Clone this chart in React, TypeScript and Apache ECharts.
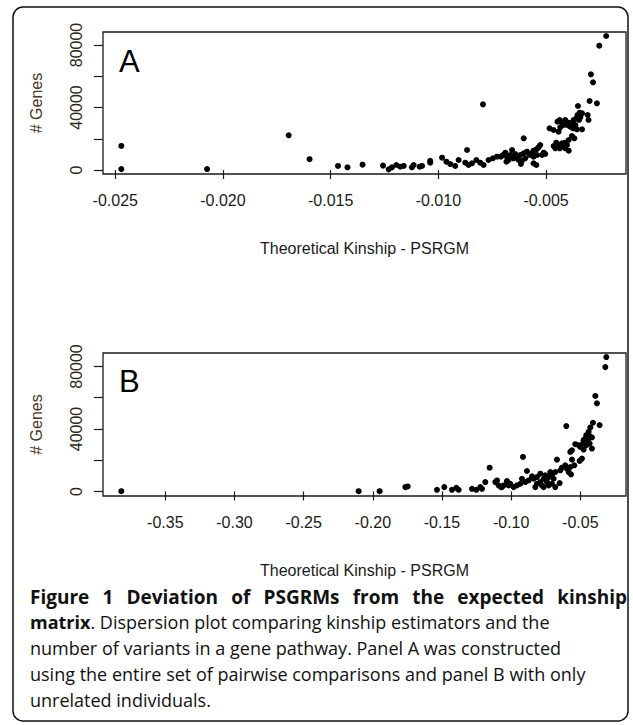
import React, { useEffect, useRef } from 'react';
import * as echarts from 'echarts';

// ---------- data ----------
const xTicksA = [-0.025, -0.02, -0.015, -0.01, -0.005];
const xTicksB = [-0.35, -0.3, -0.25, -0.2, -0.15, -0.1, -0.05];
const yTicks = [0, 20000, 40000, 60000, 80000];
const yTickLabels = [0, 40000, 80000];

const kinshipA = [
  -0.02472, -0.02472, -0.02074, -0.01695, -0.01598, -0.01466, -0.01422, -0.01352,
  -0.01257, -0.01231, -0.01216, -0.01195, -0.01177, -0.01161, -0.01123, -0.01115,
  -0.01087, -0.01076, -0.01038, -0.01038, -0.00983, -0.00963, -0.00945, -0.00922,
  -0.00906, -0.00867, -0.00875, -0.0086, -0.00844, -0.00824, -0.00806, -0.0079,
  -0.00767, -0.00747, -0.00728, -0.00793,
  -0.00221, -0.00253, -0.00292, -0.00282, -0.00298, -0.00264, -0.00352, -0.00344,
  -0.00354, -0.00333, -0.00341, -0.0036, -0.00347, -0.00307, -0.00303, -0.00372,
  -0.0038, -0.00364, -0.00388, -0.00395, -0.00411, -0.00403, -0.00375, -0.00357,
  -0.00333, -0.00437, -0.00447, -0.00426, -0.00419, -0.00434, -0.00484, -0.00465,
  -0.00442, -0.0038, -0.00369, -0.00395, -0.00411, -0.00426, -0.00403, -0.00419,
  -0.00442, -0.00453, -0.00465, -0.00457, -0.00437, -0.00411, -0.00395, -0.00604,
  -0.00527, -0.00535, -0.00545, -0.00558, -0.00566, -0.00576, -0.00558, -0.00542,
  -0.00519, -0.00511, -0.00504, -0.00589, -0.00604, -0.0062, -0.00635, -0.00643,
  -0.00658, -0.00666, -0.00682, -0.00689, -0.007, -0.0071, -0.00612, -0.00597,
  -0.00628, -0.00651, -0.00674, -0.00684, -0.00558, -0.00545, -0.00617,
];
const genesA = [
  15400, 600, 600, 22200, 6900, 2600, 1700, 3400,
  2800, 400, 1700, 3200, 2100, 2600, 1700, 3200,
  2100, 2600, 4700, 5900, 7900, 5300, 3800, 2600,
  6400, 12800, 4700, 3200, 4300, 6400, 4700, 3200,
  6400, 7500, 8500, 42000,
  85760, 79570, 61230, 56100, 44160, 42670, 40960, 36690,
  35200, 36270, 33700, 33070, 32000, 35200, 32000, 32000,
  29870, 28800, 27730, 30290, 32000, 28800, 26670, 26030,
  26030, 32000, 30930, 30290, 28800, 27310, 26670, 25600,
  24530, 21760, 20270, 19200, 17490, 17070, 16000, 14930,
  16000, 17490, 15360, 13870, 13870, 13870, 12370, 20270,
  16000, 14510, 13230, 12370, 10670, 9600, 8530, 9600,
  9600, 11090, 10240, 11730, 10670, 9600, 8530, 10240,
  12800, 9600, 8530, 11090, 9600, 8530, 5970, 7470,
  6400, 7470, 6400, 5330, 4270, 3200, 3840,
];

const kinshipB = [
  -0.3818, -0.21025, -0.19507, -0.17651, -0.17483, -0.15362, -0.14832, -0.14278,
  -0.13965, -0.13797, -0.12832, -0.12519, -0.1223, -0.12109, -0.11868, -0.11555,
  -0.11145, -0.11025, -0.10905, -0.10664, -0.10302, -0.10182,
  -0.03122, -0.03194, -0.03917, -0.03797, -0.06013, -0.04086, -0.03604, -0.04278,
  -0.04398, -0.04568, -0.04327, -0.0464, -0.04471, -0.04158, -0.04761, -0.04327,
  -0.04568, -0.04808, -0.05001, -0.04158, -0.04761, -0.05122, -0.05363, -0.05604,
  -0.05724, -0.04881, -0.05049, -0.05604, -0.05435, -0.05724, -0.05965, -0.05844,
  -0.05676, -0.06086, -0.06327, -0.06688, -0.06447, -0.06808, -0.0717, -0.0705,
  -0.06929, -0.0729, -0.07531, -0.07651, -0.07411, -0.0705, -0.06808, -0.06495,
  -0.07893, -0.08134, -0.08375, -0.08495, -0.07893, -0.07773, -0.08134, -0.08254,
  -0.0729, -0.07651, -0.08857, -0.09145, -0.08736, -0.08977, -0.09218, -0.09338,
  -0.09579, -0.0982, -0.10061, -0.10302, -0.10543, -0.10735,
];
const genesB = [
  200, 200, 200, 2790, 3220, 1070, 2790, 1070,
  2360, 1070, 1720, 1070, 2790, 1720, 6010, 15230,
  6010, 7080, 3860, 2790, 6010, 3860,
  86030, 79590, 61140, 56420, 41830, 43980, 42480, 40980,
  38190, 36040, 35400, 33900, 32820, 34540, 32820, 30680,
  29610, 30680, 28530, 27460, 26820, 29610, 30250, 26390,
  25310, 21030, 19520, 20380, 16730, 15660, 14590, 12440,
  10940, 16730, 15230, 20380, 13520, 12440, 12440, 10300,
  8150, 9220, 10300, 8150, 6010, 4930, 2790, 5360,
  11370, 9220, 8150, 9650, 6010, 3860, 4930, 2790,
  3860, 2790, 13090, 22100, 7080, 6010, 8150, 4930,
  3860, 2790, 4930, 6650, 3860, 2790,
];

const captionTitle = 'Figure 1 Deviation of PSGRMs from the expected kinship';
const captionLines = [
  'number of variants in a gene pathway. Panel A was constructed',
  'using the entire set of pairwise comparisons and panel B with only',
  'unrelated individuals.',
];

// ---------- helpers ----------
const RFONT = '"Liberation Sans", Arial, sans-serif';
const CFONT = '"Open Sans", "Noto Sans", sans-serif';
const INK = '#1a1a1a';
const AX_FONT = 16;

function measure(text: string, font: string): number {
  const ctx = document.createElement('canvas').getContext('2d');
  if (!ctx) return text.length * 8;
  ctx.font = font;
  return ctx.measureText(text).width;
}

function xAxisFor(grid: number, min: number, max: number, ticks: number[], digits: number) {
  return {
    gridIndex: grid,
    type: 'value',
    min,
    max,
    splitLine: { show: false },
    axisLine: { show: false },
    axisTick: { show: true, length: 9, customValues: ticks, lineStyle: { color: INK, width: 1.2 } },
    axisLabel: {
      customValues: ticks,
      formatter: (v: number) => v.toFixed(digits),
      margin: 18,
      fontSize: AX_FONT,
      fontFamily: RFONT,
      color: INK,
    },
    name: 'Theoretical Kinship - PSRGM',
    nameLocation: 'middle',
    nameGap: 66,
    nameTextStyle: { fontSize: AX_FONT, fontFamily: RFONT, color: INK },
  };
}

function yAxisFor(grid: number, min: number, max: number) {
  return {
    gridIndex: grid,
    type: 'value',
    min,
    max,
    splitLine: { show: false },
    axisLine: { show: false },
    axisTick: { show: true, length: 9, customValues: yTicks, lineStyle: { color: INK, width: 1.2 } },
    axisLabel: {
      customValues: yTickLabels,
      formatter: (v: number) => String(v),
      rotate: 90,
      margin: 19,
      fontSize: AX_FONT,
      fontFamily: RFONT,
      color: '#2e2823',
    },
    name: '# Genes',
    nameLocation: 'middle',
    nameRotate: 90,
    nameGap: 59,
    nameTextStyle: { fontSize: AX_FONT, fontFamily: RFONT, color: '#4a3626' },
  };
}

export default function App() {
  const ref = useRef<HTMLDivElement>(null);

  useEffect(() => {
    if (!ref.current) return;
    const chart = echarts.init(ref.current, undefined, { renderer: 'svg' });

    const capSize = 18;
    const titleSize = 19;
    const left = 30;
    const right = 627;
    const boldFont = `bold ${titleSize}px "Open Sans"`;
    const words = captionTitle.split(' ');
    const widths = words.map((w) => measure(w, boldFont));
    const total = widths.reduce((a, b) => a + b, 0);
    const gap = (right - left - total) / (words.length - 1);
    let cx = left;
    const titleWords = words.map((w, i) => {
      const el = {
        type: 'text',
        x: cx,
        y: 597,
        style: {
          text: w,
          fontSize: titleSize,
          fontWeight: 'bold',
          fontFamily: CFONT,
          fill: '#111',
          verticalAlign: 'middle',
        },
      };
      cx += widths[i] + gap;
      return el;
    });

    const lineY = [648, 674, 700];

    const option: any = {
      animation: false,
      grid: [
        { left: 103, top: 32, width: 523, height: 142, show: true, borderColor: INK, borderWidth: 1.3 },
        { left: 103, top: 353, width: 523, height: 143, show: true, borderColor: INK, borderWidth: 1.3 },
      ],
      xAxis: [
        xAxisFor(0, -0.02557, -0.00129, xTicksA, 3),
        xAxisFor(1, -0.39503, -0.01698, xTicksB, 2),
      ],
      yAxis: [yAxisFor(0, -2560, 88320), yAxisFor(1, -2900, 88620)],
      series: [
        {
          type: 'scatter',
          xAxisIndex: 0,
          yAxisIndex: 0,
          symbolSize: 6,
          itemStyle: { color: '#000', opacity: 1 },
          data: kinshipA.map((k, i) => [k, genesA[i]]),
        },
        {
          type: 'scatter',
          xAxisIndex: 1,
          yAxisIndex: 1,
          symbolSize: 6,
          itemStyle: { color: '#000', opacity: 1 },
          data: kinshipB.map((k, i) => [k, genesB[i]]),
        },
      ],
      graphic: [
        {
          type: 'rect',
          shape: { x: 13, y: 7, width: 615, height: 714, r: 10 },
          style: { fill: 'none', stroke: '#111', lineWidth: 1.5 },
        },
        {
          type: 'text',
          x: 119,
          y: 46,
          style: { text: 'A', fontSize: 31, fontFamily: RFONT, fill: '#000' },
        },
        {
          type: 'text',
          x: 119,
          y: 366,
          style: { text: 'B', fontSize: 31, fontFamily: RFONT, fill: '#000' },
        },
        ...titleWords,
        {
          type: 'text',
          x: left,
          y: 622,
          style: {
            text: '{b|matrix}{n|. Dispersion plot comparing kinship estimators and the}',
            verticalAlign: 'middle',
            rich: {
              b: { fontSize: capSize, fontWeight: 'bold', fontFamily: CFONT, fill: '#111' },
              n: { fontSize: capSize, fontFamily: CFONT, fill: '#111' },
            },
          },
        },
        ...captionLines.map((t, i) => ({
          type: 'text',
          x: left,
          y: lineY[i],
          style: { text: t, fontSize: capSize, fontFamily: CFONT, fill: '#111', verticalAlign: 'middle' },
        })),
      ],
    };

    chart.setOption(option);
    return () => chart.dispose();
  }, []);

  return (
    <div
      ref={ref}
      style={{ position: 'fixed', left: 0, top: 0, width: 633, height: 725, background: '#fff' }}
    />
  );
}
